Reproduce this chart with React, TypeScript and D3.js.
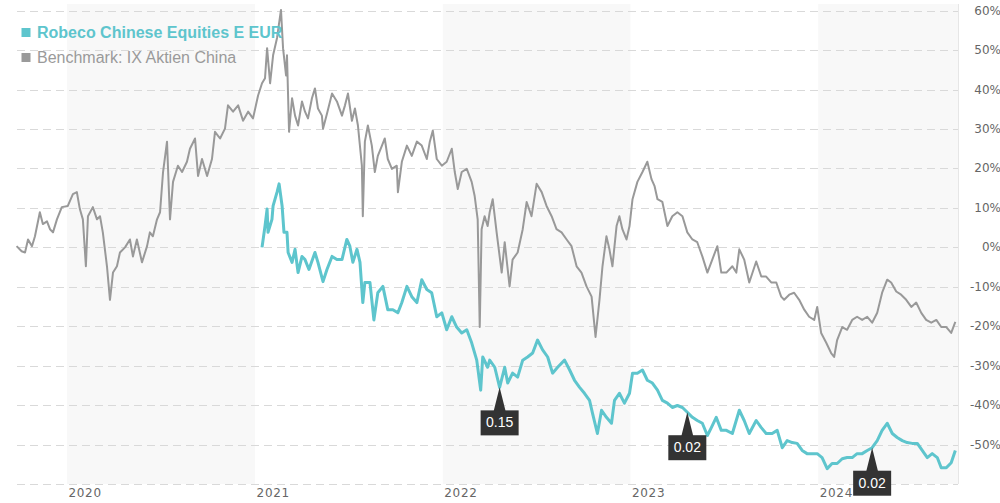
import React from 'react';
import * as d3 from 'd3';

// decimal year, % change
const benchmark: [number, number][] = [
  [2019.732, 0.3], [2019.759, -1.0], [2019.777, -1.3], [2019.793, 2.0], [2019.814, 0.3], [2019.83, 2.8],
  [2019.856, 8.9], [2019.872, 5.9], [2019.894, 6.6], [2019.91, 4.6], [2019.926, 3.8], [2019.947, 7.1],
  [2019.973, 10.2], [2020.005, 10.5], [2020.032, 13.5], [2020.053, 14.0], [2020.069, 9.7], [2020.085, 7.1],
  [2020.101, -4.8], [2020.112, 7.9], [2020.138, 10.2], [2020.16, 7.1], [2020.176, 7.9], [2020.191, 3.8],
  [2020.213, -4.8], [2020.229, -13.3], [2020.245, -6.4], [2020.266, -4.8], [2020.282, -1.3], [2020.309, 0],
  [2020.335, 2.0], [2020.351, -2.3], [2020.372, 2.0], [2020.399, -3.8], [2020.426, 0.3], [2020.441, 3.8],
  [2020.457, 2.8], [2020.479, 7.1], [2020.495, 8.9], [2020.511, 19.1], [2020.532, 26.8], [2020.548, 7.1],
  [2020.564, 16.6], [2020.59, 20.7], [2020.612, 19.1], [2020.638, 21.7], [2020.654, 25.0], [2020.681, 27.6],
  [2020.697, 18.1], [2020.718, 22.4], [2020.745, 18.1], [2020.771, 22.4], [2020.787, 29.3], [2020.814, 27.6],
  [2020.84, 30.1], [2020.856, 36.0], [2020.883, 34.4], [2020.91, 36.0], [2020.936, 32.1], [2020.963, 34.4],
  [2020.989, 32.7], [2021.016, 38.5], [2021.037, 41.6], [2021.053, 42.9], [2021.064, 50.5], [2021.08, 41.6],
  [2021.096, 48.7], [2021.117, 53.1], [2021.138, 60.2], [2021.149, 50.5], [2021.165, 43.6], [2021.17, 48.7],
  [2021.181, 29.3], [2021.197, 37.8], [2021.213, 33.4], [2021.229, 30.9], [2021.25, 37.0], [2021.266, 34.4],
  [2021.282, 32.7], [2021.303, 37.8], [2021.319, 40.3], [2021.335, 35.2], [2021.356, 33.4], [2021.362, 30.1],
  [2021.383, 33.9], [2021.41, 39.0], [2021.436, 37.0], [2021.463, 33.4], [2021.479, 36.0], [2021.495, 39.0],
  [2021.516, 32.1], [2021.532, 35.2], [2021.548, 30.9], [2021.569, 20.7], [2021.574, 7.9], [2021.585, 26.8],
  [2021.601, 30.9], [2021.622, 25.8], [2021.638, 19.1], [2021.654, 23.2], [2021.676, 25.8], [2021.691, 27.6],
  [2021.707, 22.4], [2021.729, 19.9], [2021.755, 20.7], [2021.761, 14.0], [2021.782, 21.7], [2021.809, 25.8],
  [2021.835, 23.2], [2021.862, 26.8], [2021.888, 25.8], [2021.915, 22.4], [2021.931, 26.8], [2021.947, 29.6],
  [2021.968, 22.4], [2021.995, 20.7], [2022.021, 21.7], [2022.048, 25.0], [2022.064, 19.1], [2022.08, 14.8],
  [2022.101, 19.1], [2022.128, 19.9], [2022.154, 16.6], [2022.17, 13.0], [2022.186, 7.1], [2022.197, -20.2],
  [2022.207, 4.6], [2022.223, 7.9], [2022.239, 5.4], [2022.25, 8.9], [2022.266, 12.2], [2022.287, 3.8],
  [2022.314, -6.4], [2022.33, 1.3], [2022.356, -9.9], [2022.372, -3.1], [2022.399, -1.3], [2022.426, 4.6],
  [2022.447, 11.5], [2022.473, 7.9], [2022.5, 16.1], [2022.527, 14.0], [2022.553, 10.5], [2022.58, 7.9],
  [2022.606, 4.6], [2022.633, 3.8], [2022.66, 2.0], [2022.686, 0.3], [2022.713, -4.8], [2022.739, -6.4],
  [2022.766, -9.9], [2022.793, -12.5], [2022.814, -22.7], [2022.835, -13.3], [2022.851, -4.8], [2022.872, 2.8],
  [2022.888, -0.5], [2022.904, -4.8], [2022.926, 5.4], [2022.941, 7.9], [2022.957, 4.6], [2022.979, 2.0],
  [2022.995, 5.4], [2023.011, 12.2], [2023.037, 16.6], [2023.064, 19.1], [2023.09, 21.7], [2023.112, 17.3],
  [2023.128, 15.6], [2023.144, 12.2], [2023.17, 11.5], [2023.197, 5.4], [2023.223, 7.9], [2023.25, 8.9],
  [2023.277, 7.9], [2023.303, 3.8], [2023.33, 2.0], [2023.356, 1.3], [2023.383, -2.3], [2023.41, -6.4],
  [2023.436, -3.1], [2023.463, 0.3], [2023.484, -6.4], [2023.511, -6.4], [2023.543, -4.8], [2023.564, -6.4],
  [2023.58, -0.5], [2023.606, -3.1], [2023.633, -8.9], [2023.67, -3.6], [2023.697, -7.4], [2023.723, -7.4],
  [2023.75, -8.9], [2023.777, -8.9], [2023.803, -12.5], [2023.819, -13.3], [2023.846, -12.0], [2023.872, -11.5],
  [2023.899, -13.3], [2023.926, -15.8], [2023.952, -17.6], [2023.979, -18.4], [2023.995, -15.1], [2024.016, -21.7],
  [2024.043, -24.2], [2024.069, -26.8], [2024.085, -27.8], [2024.101, -23.5], [2024.128, -20.2], [2024.154, -20.9],
  [2024.181, -18.4], [2024.207, -17.6], [2024.234, -18.4], [2024.261, -17.6], [2024.287, -19.1], [2024.314, -16.6],
  [2024.34, -11.5], [2024.367, -8.2], [2024.388, -8.9], [2024.415, -11.2], [2024.441, -12.0], [2024.468, -13.3],
  [2024.495, -15.1], [2024.521, -14.0], [2024.548, -16.6], [2024.574, -18.4], [2024.601, -19.1], [2024.628, -18.4],
  [2024.654, -20.2], [2024.681, -20.2], [2024.707, -21.7], [2024.729, -18.9],
];

const fund: [number, number][] = [
  [2021.037, 0], [2021.053, 5.4], [2021.064, 9.7], [2021.069, 3.8], [2021.09, 7.1], [2021.096, 10.5],
  [2021.117, 14.0], [2021.128, 16.1], [2021.144, 10.5], [2021.154, 3.8], [2021.17, 3.8], [2021.176, -1.3],
  [2021.197, -3.8], [2021.213, -0.5], [2021.229, -6.4], [2021.25, -2.3], [2021.266, -3.1], [2021.287, -5.6],
  [2021.319, -1.3], [2021.335, -3.8], [2021.362, -8.7], [2021.383, -5.6], [2021.41, -2.3], [2021.436, -3.1],
  [2021.463, -3.1], [2021.489, 2.0], [2021.505, 0.3], [2021.521, -3.8], [2021.543, -0.5], [2021.559, -3.8],
  [2021.574, -14.0], [2021.585, -8.9], [2021.612, -8.9], [2021.633, -18.4], [2021.654, -11.5], [2021.681, -9.9],
  [2021.707, -15.8], [2021.734, -15.8], [2021.761, -16.6], [2021.782, -14.0], [2021.809, -9.9], [2021.835, -12.5],
  [2021.862, -14.0], [2021.888, -8.2], [2021.915, -10.7], [2021.941, -11.5], [2021.968, -17.6], [2021.995, -16.6],
  [2022.021, -20.9], [2022.048, -17.6], [2022.074, -20.2], [2022.101, -21.7], [2022.128, -20.9], [2022.154, -24.2],
  [2022.181, -28.6], [2022.202, -36.2], [2022.213, -27.8], [2022.239, -30.4], [2022.25, -28.6], [2022.277, -30.4],
  [2022.303, -35.5], [2022.33, -30.4], [2022.346, -34.4], [2022.372, -31.9], [2022.399, -32.9], [2022.426, -28.6],
  [2022.452, -27.8], [2022.479, -26.8], [2022.505, -23.5], [2022.532, -26.0], [2022.559, -27.8], [2022.585, -31.9],
  [2022.612, -30.4], [2022.649, -28.6], [2022.676, -31.1], [2022.702, -33.7], [2022.729, -35.5], [2022.755, -37.0],
  [2022.782, -38.8], [2022.798, -42.1], [2022.824, -47.2], [2022.846, -41.3], [2022.872, -43.1], [2022.899, -44.6],
  [2022.915, -38.8], [2022.941, -37.0], [2022.968, -39.5], [2022.995, -37.0], [2023.011, -31.9], [2023.037, -31.9],
  [2023.064, -31.1], [2023.09, -33.7], [2023.117, -34.4], [2023.144, -36.2], [2023.17, -38.8], [2023.197, -39.5],
  [2023.223, -40.6], [2023.25, -40.1], [2023.277, -40.6], [2023.303, -41.8], [2023.33, -43.1], [2023.356, -43.9],
  [2023.383, -44.6], [2023.41, -47.7], [2023.431, -45.7], [2023.457, -43.1], [2023.484, -46.4], [2023.511, -46.4],
  [2023.543, -47.2], [2023.58, -41.3], [2023.606, -43.9], [2023.633, -47.2], [2023.67, -43.9], [2023.697, -45.7],
  [2023.723, -47.2], [2023.755, -47.2], [2023.782, -46.4], [2023.809, -50.8], [2023.835, -49.0], [2023.862, -49.5],
  [2023.888, -49.7], [2023.915, -51.5], [2023.941, -52.3], [2023.968, -52.3], [2023.995, -52.3], [2024.021, -53.3],
  [2024.048, -56.1], [2024.074, -54.8], [2024.101, -54.8], [2024.128, -53.6], [2024.154, -53.3], [2024.181, -53.3],
  [2024.207, -52.3], [2024.234, -52.3], [2024.261, -51.5], [2024.287, -50.8], [2024.314, -49.0], [2024.34, -46.4],
  [2024.367, -44.6], [2024.394, -47.2], [2024.42, -48.2], [2024.447, -49.0], [2024.473, -49.5], [2024.5, -49.7],
  [2024.527, -49.7], [2024.553, -51.5], [2024.58, -53.3], [2024.606, -52.3], [2024.633, -53.3], [2024.654, -55.9],
  [2024.681, -55.9], [2024.707, -54.6], [2024.729, -51.5],
];

const dividendDates = [2022.303, 2023.303, 2024.287];
const dividendLabels = ['0.15', '0.02', '0.02'];

const yTicks = [-50, -40, -30, -20, -10, 0, 10, 20, 30, 40, 50, 60];
const years = [2020, 2021, 2022, 2023, 2024];
const shadedYears = [2020, 2022, 2024];

const legend = [
  { name: 'Robeco Chinese Equities E EUR', color: '#5ec5cd', bold: true },
  { name: 'Benchmark: IX Aktien China', color: '#9a9a9a', bold: false },
];

const toDate = (t: number) => {
  const y = Math.floor(t);
  const a = new Date(y, 0, 1).getTime();
  const b = new Date(y + 1, 0, 1).getTime();
  return new Date(a + (t - y) * (b - a));
};

const W = 1000, H = 503;
const left = 17, right = 958, top = 4, bottom = 484;

export default function App() {
  const x = d3.scaleTime()
    .domain([new Date(2019, 8, 26), new Date(2024, 8, 29)])
    .range([left, right]);
  const y = d3.scaleLinear().domain([-60, 60]).range([bottom, 10.7]);

  const line = d3.line<[number, number]>()
    .x(d => x(toDate(d[0])))
    .y(d => y(d[1]));

  const fundAt = (t: number) => {
    const i = d3.bisector((d: [number, number]) => d[0]).left(fund, t);
    const a = fund[Math.max(0, i - 1)], b = fund[Math.min(fund.length - 1, i)];
    if (a[0] === b[0]) return a[1];
    return a[1] + (b[1] - a[1]) * (t - a[0]) / (b[0] - a[0]);
  };

  const xEnd = x.domain()[1];

  return (
    <svg width={W} height={H} style={{ position: 'absolute', left: 0, top: 0 }}>
      {shadedYears.map(yr => {
        const x0 = x(new Date(yr, 0, 1));
        const d1 = new Date(yr + 1, 0, 1);
        const x1 = x(d1 > xEnd ? xEnd : d1);
        return <rect key={yr} x={x0} y={top} width={x1 - x0} height={bottom - top} fill="#f8f8f8" />;
      })}
      {yTicks.concat([-60]).map(v => (
        <line key={v} x1={left} x2={right} y1={Math.round(y(v)) + 0.5} y2={Math.round(y(v)) + 0.5}
          stroke="#d9d9d9" strokeWidth={1} strokeDasharray="8,5" />
      ))}
      <line x1={right + 0.5} x2={right + 0.5} y1={top} y2={bottom} stroke="#e6e6e6" />
      {yTicks.map(v => (
        <text key={v} x={1001} y={y(v) + 4} textAnchor="end" fontFamily="DejaVu Sans, Verdana" fontSize={12}
          fill="#666">{v}%</text>
      ))}
      {years.map(yr => (
        <text key={yr} x={x(new Date(yr, 0, 1)) + 1.5} y={497} fontFamily="DejaVu Sans, Verdana" fontSize={12}
          letterSpacing={0.7} fill="#666">{yr}</text>
      ))}
      <path d={line(benchmark) || ''} fill="none" stroke="#999" strokeWidth={2} strokeLinejoin="round" />
      <path d={line(fund) || ''} fill="none" stroke="#5ec5cd" strokeWidth={3} strokeLinejoin="round" />
      {dividendDates.map((t, i) => {
        const cx = x(toDate(t));
        const cy = y(fundAt(t));
        return (
          <g key={i}>
            <path d={`M${cx},${cy} L${cx + 6},${cy + 24} L${cx - 6},${cy + 24} Z`} fill="#333" />
            <rect x={cx - 19} y={cy + 23} width={38} height={25} fill="#333" />
            <text x={cx} y={cy + 40} textAnchor="middle" fontFamily="Liberation Sans, Arial" fontSize={14}
              fill="#fff">{dividendLabels[i]}</text>
          </g>
        );
      })}
      {legend.map((l, i) => (
        <g key={l.name} transform={`translate(21,${28 + i * 25})`}>
          <rect x={0.5} y={0} width={9} height={9} fill={l.color} />
          <text x={16} y={10} fontFamily="Liberation Sans, Arial" fontSize={16} fontWeight={l.bold ? 'bold' : 'normal'}
            fill={l.color}>{l.name}</text>
        </g>
      ))}
    </svg>
  );
}
